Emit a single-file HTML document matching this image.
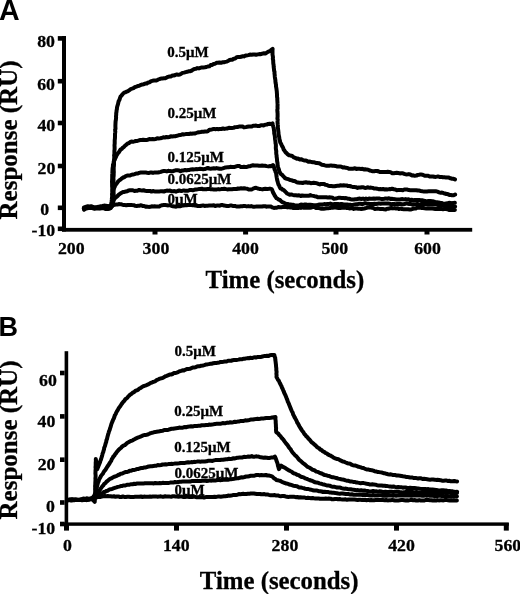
<!DOCTYPE html>
<html><head><meta charset="utf-8"><style>
html,body{margin:0;padding:0;background:#fff;}
body{width:520px;height:594px;overflow:hidden;}
svg{display:block;will-change:transform;}
</style></head><body>
<svg width="520" height="594" viewBox="0 0 520 594">
<rect width="520" height="594" fill="#fff"/>
<g fill="#000">
<rect x="62" y="36" width="4" height="195.5"/>
<rect x="62" y="227.9" width="410.2" height="3.8"/>
<rect x="57.8" y="36.1" width="4.2" height="4.6"/>
<rect x="57.8" y="78.9" width="4.2" height="4.6"/>
<rect x="57.8" y="120.7" width="4.2" height="4.6"/>
<rect x="57.8" y="163.7" width="4.2" height="4.6"/>
<rect x="57.8" y="205.5" width="4.2" height="4.6"/>
<rect x="57.8" y="226.5" width="4.2" height="4.6"/>
<rect x="152.5" y="229.0" width="5.0" height="5.5"/>
<rect x="243.1" y="229.0" width="5.0" height="5.5"/>
<rect x="333.5" y="229.0" width="5.0" height="5.5"/>
<rect x="424.5" y="229.0" width="5.0" height="5.5"/>
<rect x="64.6" y="351.2" width="3.6" height="174.6"/>
<rect x="60" y="522.4" width="448.8" height="3.4"/>
<rect x="60.0" y="370.7" width="4.6" height="4.6"/>
<rect x="60.0" y="414.1" width="4.6" height="4.6"/>
<rect x="60.0" y="457.4" width="4.6" height="4.6"/>
<rect x="60.0" y="500.2" width="4.6" height="4.6"/>
<rect x="60.0" y="521.7" width="4.6" height="4.6"/>
<rect x="64.0" y="523.0" width="5.0" height="7.6"/>
<rect x="174.0" y="523.0" width="5.0" height="7.6"/>
<rect x="284.0" y="523.0" width="5.0" height="7.6"/>
<rect x="394.0" y="523.0" width="5.0" height="7.6"/>
<rect x="503.8" y="523.0" width="5.0" height="7.6"/>
</g>
<g fill="none" stroke="#000" stroke-width="4.0" stroke-linejoin="round" stroke-linecap="round">
<path d="M84.1,208.2 L85.8,208.3 L87.3,208.3 L89.0,207.8 L90.7,208.1 L92.3,208.0 L94.0,208.1 L95.6,207.9 L97.2,207.6 L98.8,207.8 L100.6,207.0 L102.2,207.1 L104.1,206.9 L105.6,206.6 L107.2,206.7 L108.9,206.4 L110.6,206.4 L112.4,206.0 L112.3,204.9 L112.4,203.2 L112.4,202.0 L112.6,200.7 L112.6,199.2 L112.6,197.5 L112.7,196.1 L112.8,194.5 L112.9,193.3 L113.1,192.2 L113.2,190.7 L113.2,189.1 L113.2,186.9 L113.4,185.0 L113.4,183.9 L113.2,182.6 L113.5,181.1 L113.5,179.6 L113.4,177.8 L113.6,176.4 L113.7,175.0 L113.7,173.7 L113.8,172.2 L113.7,170.2 L113.7,168.8 L113.7,167.6 L113.9,166.0 L114.0,164.5 L114.0,162.4 L114.1,161.4 L114.1,159.8 L114.2,158.1 L114.3,156.8 L114.1,155.4 L114.4,154.0 L114.4,153.4 L114.4,151.8 L114.4,150.8 L114.6,149.2 L114.6,147.0 L114.5,145.3 L114.7,143.5 L114.7,141.7 L114.7,140.2 L114.9,138.8 L115.0,136.9 L115.0,135.6 L115.0,133.9 L115.2,132.5 L115.3,131.4 L115.1,129.6 L115.5,128.8 L115.4,126.9 L115.4,125.5 L115.5,123.2 L115.6,121.4 L115.9,119.6 L116.0,118.6 L116.1,117.6 L116.0,116.5 L116.2,114.6 L116.2,113.4 L116.5,111.7 L116.6,110.3 L116.9,109.2 L117.0,107.5 L117.6,105.3 L118.0,104.1 L118.4,102.3 L118.7,101.1 L119.5,99.8 L119.9,98.2 L120.6,96.4 L121.4,95.7 L122.3,94.7 L123.3,93.3 L124.4,92.5 L125.5,92.3 L126.8,91.6 L128.0,91.1 L129.4,90.1 L130.7,89.1 L132.0,88.7 L133.5,88.2 L134.8,87.2 L136.4,86.6 L137.8,86.0 L139.2,85.7 L140.9,84.9 L142.3,84.5 L143.8,84.2 L145.2,83.6 L146.7,83.6 L148.2,82.4 L149.8,82.2 L151.1,81.2 L152.5,80.8 L153.9,80.6 L155.3,80.4 L156.8,80.4 L158.3,79.5 L159.6,79.0 L161.0,78.6 L162.3,78.4 L164.0,78.2 L165.3,78.2 L166.8,77.4 L168.0,76.9 L169.5,76.5 L171.1,76.4 L172.5,75.4 L173.7,75.5 L175.4,75.0 L176.8,74.4 L178.2,74.8 L179.8,74.5 L181.3,73.7 L182.5,72.9 L184.1,72.6 L185.7,72.1 L187.1,71.8 L188.5,71.3 L189.9,71.2 L191.4,70.8 L193.0,69.7 L194.3,68.9 L196.0,68.8 L197.3,68.1 L198.9,68.4 L200.3,67.9 L201.9,67.4 L203.3,67.5 L204.9,67.3 L206.4,67.0 L207.7,66.5 L209.4,66.3 L210.6,65.1 L212.2,64.9 L213.6,64.0 L215.1,63.8 L216.5,62.7 L217.9,62.8 L219.5,62.5 L221.0,62.8 L222.3,62.3 L223.9,62.3 L225.3,61.9 L226.6,61.6 L228.1,61.0 L229.6,59.9 L230.9,59.7 L232.5,59.7 L233.8,58.7 L235.2,58.5 L236.6,57.3 L238.1,57.1 L239.8,57.0 L241.2,56.8 L242.7,56.2 L243.9,56.4 L245.6,55.5 L247.0,55.4 L248.5,55.1 L249.9,54.6 L251.5,54.8 L253.2,54.5 L254.7,54.5 L256.1,54.8 L257.8,54.4 L259.2,54.1 L260.8,54.2 L262.3,53.6 L264.0,53.2 L265.3,53.6 L266.8,52.6 L267.9,51.9 L269.4,51.2 L270.5,50.8 L271.5,49.6 L272.6,48.9 L272.5,50.6 L272.5,52.1 L272.5,54.5 L272.8,56.2 L273.0,57.3 L272.8,58.8 L273.2,60.5 L273.2,61.6 L273.3,63.5 L273.6,65.0 L273.7,67.0 L273.9,68.5 L274.0,69.5 L274.1,70.7 L274.5,71.8 L274.5,73.7 L274.7,74.8 L274.8,76.7 L275.1,78.7 L275.4,80.3 L275.4,81.2 L275.6,83.1 L276.0,84.7 L276.0,86.3 L276.3,87.8 L276.5,89.1 L276.6,89.9 L276.8,91.5 L276.9,93.1 L277.0,94.5 L277.0,95.8 L277.1,97.3 L277.3,98.0 L277.3,99.9 L277.4,101.1 L277.5,103.2 L277.6,104.6 L277.5,106.8 L277.6,108.6 L277.3,109.9 L277.4,111.5 L277.6,113.5 L277.6,115.0 L277.6,116.8 L277.4,118.6 L277.7,119.5 L277.6,120.9 L277.5,121.7 L277.6,122.6 L277.7,124.2 L277.9,125.5 L277.8,127.4 L278.1,129.0 L278.2,130.7 L278.5,132.5 L278.5,133.8 L278.9,135.8 L279.2,137.2 L279.4,139.3 L279.9,140.5 L280.2,142.3 L280.7,143.2 L281.2,144.2 L281.9,145.7 L282.3,146.4 L283.1,147.7 L283.6,149.5 L284.6,150.8 L285.5,152.3 L286.5,153.0 L287.5,154.2 L288.8,155.2 L289.9,155.4 L291.2,155.7 L292.5,156.2 L293.9,157.4 L295.2,157.9 L296.8,158.7 L298.0,158.5 L299.7,159.4 L301.0,159.2 L302.6,159.9 L304.1,160.5 L305.6,160.5 L307.0,160.9 L308.4,161.7 L310.0,161.5 L311.3,162.0 L312.9,162.2 L314.3,162.3 L315.9,162.9 L317.2,163.0 L318.9,163.2 L320.5,163.9 L321.9,164.7 L323.4,164.9 L324.8,165.4 L326.4,165.7 L327.9,165.7 L329.2,165.7 L330.9,165.4 L332.4,165.8 L333.9,165.7 L335.4,165.9 L336.8,166.4 L338.2,166.5 L339.9,166.4 L341.4,166.7 L342.9,167.5 L344.4,167.3 L345.8,167.8 L347.5,167.9 L348.9,168.7 L350.4,168.7 L351.7,168.8 L353.3,168.7 L355.0,168.2 L356.4,168.9 L357.7,168.7 L359.4,168.8 L360.9,168.9 L362.4,168.8 L363.8,169.4 L365.2,169.2 L366.8,169.6 L368.2,169.7 L369.7,170.5 L371.3,170.9 L372.7,171.3 L374.2,171.3 L375.8,170.9 L377.4,171.0 L378.8,171.5 L380.2,172.1 L381.8,172.0 L383.4,172.0 L384.9,172.1 L386.2,172.1 L387.7,171.7 L389.3,171.9 L390.9,172.4 L392.3,173.3 L393.8,173.3 L395.2,172.9 L396.6,172.8 L398.3,173.0 L399.8,173.4 L401.2,173.2 L402.8,173.3 L404.1,173.9 L405.7,174.2 L407.2,174.4 L408.8,174.1 L410.3,174.5 L411.7,175.4 L413.2,175.3 L414.7,175.8 L416.4,175.6 L417.8,174.9 L419.1,174.8 L420.8,174.4 L422.3,174.7 L423.9,175.3 L425.2,175.8 L426.6,175.7 L428.2,175.8 L429.6,176.5 L431.1,176.6 L432.9,176.4 L434.1,176.8 L435.7,176.9 L437.3,176.6 L438.6,176.6 L440.0,177.0 L441.7,176.9 L442.9,177.3 L444.6,177.3 L446.1,177.6 L447.5,177.5 L448.9,177.6 L450.5,178.3 L452.1,178.7 L453.6,178.8 L455.0,179.4"/>
<path d="M84.0,207.5 L85.6,207.4 L87.3,208.0 L89.0,207.6 L90.8,208.0 L92.3,207.8 L94.1,207.4 L95.8,207.3 L97.5,207.0 L99.0,206.6 L100.8,206.3 L102.4,206.0 L104.1,205.6 L105.7,205.7 L107.4,205.9 L109.1,206.3 L110.8,206.8 L111.1,205.6 L111.2,203.8 L111.6,201.6 L111.8,199.9 L111.9,198.1 L112.2,196.5 L112.2,195.6 L112.0,194.1 L112.3,192.8 L112.2,191.4 L112.2,189.8 L112.3,188.1 L112.2,187.3 L112.1,186.3 L112.1,184.8 L112.1,183.6 L112.0,181.7 L112.1,180.0 L112.2,178.2 L112.2,176.8 L112.2,175.0 L112.3,173.7 L112.4,171.8 L112.5,169.7 L112.6,168.1 L112.9,166.5 L113.0,164.7 L113.6,163.2 L113.7,161.7 L114.1,160.5 L114.8,159.6 L115.2,158.4 L115.9,157.0 L116.4,155.7 L117.2,154.5 L117.9,153.2 L118.8,152.3 L119.7,150.9 L120.5,149.6 L121.7,149.0 L122.7,147.7 L123.9,147.0 L125.0,145.7 L126.2,144.8 L127.4,143.7 L128.9,143.1 L130.0,142.2 L131.4,141.6 L133.1,141.7 L134.5,141.4 L135.7,141.0 L137.3,141.0 L138.9,140.4 L140.3,140.0 L141.8,140.0 L143.2,139.7 L144.7,140.0 L146.3,140.1 L147.8,139.8 L149.3,139.1 L151.1,139.2 L152.6,139.0 L154.0,139.2 L155.7,139.0 L157.2,138.2 L158.8,138.4 L160.2,138.3 L161.7,138.0 L163.4,137.2 L164.7,137.6 L166.4,137.0 L167.8,137.3 L169.2,137.1 L170.8,136.3 L172.3,136.5 L173.8,136.3 L175.2,136.2 L176.8,135.8 L178.4,135.3 L179.8,135.1 L181.4,134.7 L182.8,134.2 L184.2,134.4 L185.8,134.1 L187.2,133.9 L188.9,134.0 L190.2,133.6 L191.7,133.8 L193.1,133.6 L194.7,133.6 L196.2,133.0 L197.5,132.5 L199.1,132.2 L200.7,132.0 L201.9,131.8 L203.6,131.8 L205.0,131.4 L206.6,131.6 L208.0,131.1 L209.4,129.8 L211.0,129.7 L212.4,129.3 L214.1,128.9 L215.5,129.2 L216.9,128.9 L218.4,129.3 L220.0,128.9 L221.3,129.0 L223.0,128.5 L224.5,128.9 L226.1,128.6 L227.5,128.4 L228.9,127.8 L230.4,128.0 L232.0,127.9 L233.5,127.8 L234.9,127.2 L236.7,127.1 L238.0,126.9 L239.7,126.4 L241.1,126.6 L242.6,126.5 L244.0,127.4 L245.8,127.1 L247.2,126.8 L248.8,126.5 L250.3,126.4 L251.8,126.5 L253.1,125.8 L254.6,125.8 L256.1,125.6 L257.8,126.1 L259.2,126.1 L260.9,125.3 L262.3,125.3 L263.6,125.4 L265.1,124.7 L266.7,124.6 L268.2,123.9 L269.6,123.7 L271.3,124.2 L272.5,123.4 L272.9,125.2 L273.4,127.1 L273.7,128.0 L274.0,130.1 L274.2,132.0 L274.2,133.2 L274.7,135.4 L274.9,136.6 L275.0,138.4 L275.1,139.5 L275.3,140.6 L275.5,141.9 L275.5,143.0 L275.8,144.2 L275.9,145.8 L275.8,148.0 L276.0,149.7 L276.3,151.3 L276.2,152.4 L276.3,154.1 L276.6,155.4 L276.6,156.7 L276.9,158.4 L277.0,159.6 L277.1,161.1 L277.5,163.0 L277.6,165.0 L277.9,166.5 L278.3,168.0 L278.9,169.5 L279.2,170.9 L279.8,172.4 L280.4,173.4 L281.1,174.2 L282.1,174.8 L283.0,175.9 L283.9,176.8 L285.0,178.1 L286.4,178.7 L287.3,178.9 L288.9,179.4 L290.2,180.1 L291.8,180.3 L293.2,180.9 L294.6,181.1 L296.4,182.1 L297.8,182.6 L299.6,182.8 L301.2,182.7 L302.7,183.0 L304.5,182.4 L305.9,182.2 L307.7,182.7 L309.2,182.6 L310.8,183.2 L312.4,183.1 L313.7,182.7 L315.4,183.1 L316.8,183.2 L318.3,183.9 L319.8,184.5 L321.1,183.9 L322.7,184.1 L324.2,184.0 L325.4,184.8 L326.9,184.9 L328.4,185.7 L329.8,186.0 L331.4,186.1 L332.8,186.3 L334.6,186.3 L335.9,186.0 L337.5,185.8 L338.9,185.7 L340.7,185.3 L342.1,185.4 L343.6,185.2 L345.3,185.4 L346.6,185.4 L348.1,186.1 L349.6,186.0 L351.3,186.5 L352.6,187.0 L354.3,187.1 L355.9,187.2 L357.5,187.9 L358.7,187.5 L360.4,187.6 L361.9,187.2 L363.4,187.3 L365.0,187.9 L366.4,187.7 L368.1,187.3 L369.6,187.8 L371.0,187.6 L372.7,187.9 L374.0,188.5 L375.7,188.4 L377.0,188.7 L378.6,189.2 L380.2,189.1 L381.7,189.2 L383.0,189.0 L384.8,189.5 L386.1,189.3 L387.7,189.4 L389.2,189.1 L390.7,189.2 L392.1,188.7 L393.9,189.2 L395.4,189.5 L396.8,190.2 L398.4,189.9 L399.8,190.1 L401.3,190.0 L402.8,190.2 L404.3,189.5 L405.8,189.6 L407.4,189.6 L408.8,190.1 L410.2,190.2 L412.0,190.3 L413.3,190.3 L414.9,190.2 L416.3,190.2 L417.8,190.5 L419.4,190.6 L420.8,191.0 L422.6,191.3 L424.0,191.5 L425.4,191.6 L427.0,191.4 L428.6,191.3 L430.0,191.2 L431.5,191.3 L433.1,191.3 L434.5,191.2 L436.3,191.3 L437.7,191.7 L439.1,192.4 L440.6,192.7 L442.0,192.6 L443.7,193.2 L444.9,193.5 L446.4,194.0 L447.7,194.1 L449.4,194.9 L450.5,194.9 L452.0,195.3 L453.6,195.3 L455.1,194.5"/>
<path d="M83.9,208.7 L85.1,208.1 L86.6,207.7 L88.1,207.8 L89.6,207.5 L91.1,207.9 L92.6,207.5 L94.5,208.2 L96.0,207.7 L97.8,208.1 L99.3,207.5 L101.0,207.6 L102.6,207.6 L104.4,207.1 L105.9,207.4 L107.4,207.7 L108.6,206.9 L110.0,206.7 L111.0,206.3 L111.8,205.7 L112.4,204.7 L112.7,203.9 L113.1,202.6 L113.5,200.9 L113.5,199.4 L113.6,198.5 L113.4,196.8 L113.7,195.1 L113.6,192.8 L113.5,191.0 L113.8,189.2 L114.1,187.9 L114.6,187.2 L115.0,185.7 L115.8,184.7 L116.8,183.3 L117.5,182.3 L118.5,181.0 L119.6,180.2 L120.8,179.3 L121.9,178.4 L123.2,177.5 L124.6,177.0 L125.7,176.1 L127.2,175.6 L128.5,175.4 L130.0,175.5 L131.6,174.7 L133.0,174.6 L134.6,174.1 L136.0,173.6 L137.8,173.5 L139.1,172.9 L140.9,172.5 L142.2,172.6 L143.9,172.5 L145.4,172.4 L147.1,172.8 L148.6,173.0 L150.1,172.6 L151.5,172.5 L153.0,172.9 L154.8,172.4 L156.1,172.4 L157.8,172.5 L159.2,172.2 L160.9,171.9 L162.3,171.2 L163.9,171.0 L165.3,171.1 L166.8,171.4 L168.3,170.8 L169.9,171.1 L171.5,171.2 L173.1,171.2 L174.5,170.6 L175.9,170.3 L177.5,170.2 L179.1,170.5 L180.5,171.3 L181.9,170.6 L183.5,170.4 L185.1,170.0 L186.7,170.4 L188.2,170.0 L189.5,169.9 L191.1,169.4 L192.6,169.2 L194.2,169.4 L195.8,169.1 L197.1,169.3 L198.7,169.1 L200.1,168.8 L201.6,169.0 L203.3,169.2 L204.8,169.1 L206.3,168.5 L207.8,168.0 L209.2,168.5 L210.6,168.7 L212.3,168.6 L213.7,168.2 L215.2,168.5 L216.6,168.1 L218.3,168.5 L219.6,168.8 L221.2,168.7 L222.7,168.4 L224.2,167.9 L225.6,167.4 L227.4,167.3 L228.6,167.3 L230.2,166.8 L231.8,167.0 L233.3,167.1 L234.7,166.9 L236.2,166.4 L237.8,165.9 L239.3,166.1 L240.8,166.9 L242.3,167.1 L243.9,166.7 L245.5,167.1 L246.8,167.0 L248.4,166.3 L250.0,166.3 L251.5,165.6 L253.0,165.2 L254.4,165.4 L255.8,165.6 L257.4,165.6 L259.1,165.8 L260.7,165.8 L262.2,165.6 L263.7,165.7 L265.0,165.7 L266.6,166.1 L268.3,166.4 L269.6,166.1 L271.3,166.2 L272.9,165.0 L273.6,166.0 L274.2,167.9 L274.6,169.6 L275.3,170.6 L275.5,171.9 L276.1,173.0 L276.2,173.9 L276.5,176.2 L276.8,178.0 L277.2,180.1 L277.6,181.5 L278.1,183.3 L278.6,184.8 L279.2,185.6 L279.7,187.0 L280.5,188.4 L281.5,188.4 L282.2,189.5 L283.4,189.9 L284.5,190.8 L285.8,192.2 L287.1,193.5 L288.2,194.0 L289.7,194.8 L291.2,194.4 L292.6,194.9 L294.2,195.2 L295.8,195.2 L297.3,195.4 L299.0,195.2 L300.7,196.0 L302.2,195.5 L304.0,195.7 L305.4,195.8 L307.0,195.7 L308.6,195.8 L310.3,195.1 L311.7,195.6 L313.3,195.9 L314.7,196.2 L316.1,196.4 L317.7,197.2 L319.3,197.2 L320.5,197.3 L322.2,197.2 L323.6,197.2 L325.0,197.3 L326.4,197.2 L328.0,197.6 L329.5,197.3 L330.9,197.4 L332.5,197.8 L333.9,198.7 L335.5,198.5 L337.0,198.2 L338.4,197.8 L340.0,197.8 L341.6,197.9 L343.2,197.9 L344.7,198.3 L346.0,198.1 L347.7,198.7 L349.1,198.8 L350.7,199.2 L352.1,199.4 L353.9,199.5 L355.2,199.3 L356.7,199.2 L358.4,198.8 L359.8,198.6 L361.4,199.0 L363.0,198.6 L364.5,199.2 L366.0,198.5 L367.6,199.1 L369.0,198.5 L370.4,198.8 L372.2,198.8 L373.7,198.5 L375.1,198.8 L376.7,198.4 L378.2,198.4 L379.6,198.6 L381.1,198.9 L382.7,199.0 L384.3,198.8 L385.8,198.4 L387.4,198.7 L389.0,198.3 L390.4,198.9 L391.8,198.8 L393.3,199.1 L395.0,199.3 L396.5,199.5 L397.9,199.6 L399.5,199.6 L401.0,199.3 L402.6,199.1 L404.1,199.4 L405.6,199.1 L407.1,199.6 L408.5,199.3 L410.1,200.1 L411.5,199.7 L413.1,200.3 L414.7,200.1 L416.2,200.1 L417.7,200.0 L419.0,200.0 L420.5,200.3 L422.1,200.2 L423.7,200.6 L425.0,200.9 L426.7,201.6 L428.0,200.9 L429.7,200.9 L431.3,201.1 L432.7,201.2 L434.2,201.6 L435.5,202.2 L437.0,202.3 L438.5,202.5 L440.1,202.8 L441.4,202.9 L443.0,203.6 L444.7,203.7 L446.0,203.5 L447.5,203.3 L449.0,202.8 L450.6,203.0 L452.0,203.2 L453.4,202.9 L454.9,202.8"/>
<path d="M83.9,208.1 L85.2,207.1 L86.3,206.7 L87.8,206.3 L89.6,206.5 L91.2,206.2 L92.8,206.8 L94.6,207.7 L96.5,207.7 L98.3,208.0 L100.3,208.2 L102.0,208.1 L103.6,208.1 L105.5,208.9 L107.0,208.9 L108.1,208.9 L109.4,208.8 L110.4,208.3 L111.3,207.3 L111.9,205.9 L112.3,204.6 L112.3,202.7 L112.7,201.4 L113.1,200.3 L113.6,199.8 L114.4,198.9 L115.5,197.7 L116.5,196.9 L117.7,195.9 L118.8,194.7 L120.3,193.6 L121.7,192.8 L123.0,192.1 L124.4,191.9 L125.8,191.5 L127.2,191.3 L128.5,190.5 L130.1,190.2 L131.6,190.2 L132.8,190.2 L134.5,191.0 L135.9,190.8 L137.4,190.7 L139.1,189.9 L140.4,190.2 L142.0,190.4 L143.6,190.3 L145.2,190.7 L146.8,190.9 L148.4,191.1 L150.0,190.9 L151.5,191.6 L152.9,191.0 L154.5,191.4 L156.0,191.4 L157.5,191.4 L159.2,191.4 L160.8,191.3 L162.3,191.2 L163.9,191.6 L165.5,190.9 L166.8,190.6 L168.5,190.7 L170.0,190.6 L171.4,191.2 L173.0,191.2 L174.4,191.1 L176.0,191.7 L177.7,191.0 L179.2,190.5 L180.6,190.9 L182.1,190.9 L183.7,190.4 L185.1,190.7 L186.6,190.8 L188.1,190.7 L189.6,190.0 L191.2,189.9 L192.7,190.3 L194.3,189.8 L195.6,189.5 L197.1,189.4 L198.7,189.1 L200.2,188.9 L201.8,188.7 L203.2,189.3 L204.8,189.3 L206.4,189.2 L207.7,188.9 L209.4,188.9 L210.8,189.2 L212.2,189.3 L213.7,189.4 L215.4,189.4 L216.8,189.4 L218.3,189.1 L219.8,189.4 L221.4,189.1 L222.7,188.9 L224.4,188.8 L225.9,189.1 L227.3,189.4 L228.8,189.2 L230.3,189.3 L231.9,189.2 L233.6,189.0 L235.0,188.9 L236.5,189.1 L238.0,188.4 L239.4,188.7 L241.1,188.2 L242.5,188.5 L244.1,188.2 L245.6,188.5 L247.2,188.7 L248.7,189.5 L250.1,189.4 L251.5,189.6 L253.2,188.6 L254.6,188.0 L256.1,187.8 L257.7,188.5 L259.4,188.9 L260.8,189.1 L262.4,189.4 L263.9,189.0 L265.3,188.8 L267.0,188.9 L268.3,188.9 L269.9,188.6 L271.6,189.1 L272.3,190.3 L273.0,192.4 L273.9,193.9 L274.7,195.5 L275.6,196.8 L276.6,198.3 L277.7,198.8 L278.8,199.6 L279.9,200.0 L281.1,201.2 L282.1,202.1 L283.4,202.5 L284.8,203.2 L286.1,204.0 L287.6,204.0 L288.9,204.2 L290.5,204.4 L292.0,204.9 L293.3,204.7 L294.9,205.5 L296.4,205.4 L298.1,205.5 L299.4,205.1 L300.9,204.6 L302.7,204.7 L304.3,204.6 L305.7,204.4 L307.3,204.9 L309.0,204.7 L310.4,204.7 L312.1,204.9 L313.6,205.2 L315.0,205.2 L316.5,205.3 L318.1,204.8 L319.8,204.6 L321.1,204.6 L322.7,204.4 L324.2,204.1 L325.9,204.2 L327.4,204.0 L328.9,203.9 L330.3,203.6 L331.7,204.2 L333.3,204.2 L334.8,204.0 L336.3,204.1 L338.0,204.0 L339.4,204.2 L341.1,204.0 L342.3,204.1 L344.0,204.5 L345.5,204.5 L347.1,204.4 L348.5,204.7 L350.2,204.7 L351.5,205.1 L353.0,204.9 L354.7,204.4 L356.1,204.3 L357.8,204.2 L359.3,203.7 L360.7,203.8 L362.4,204.2 L363.7,203.7 L365.3,203.2 L366.8,203.7 L368.4,203.7 L369.9,203.9 L371.4,203.9 L373.1,203.9 L374.5,203.8 L375.9,204.0 L377.5,203.8 L378.9,203.4 L380.6,203.8 L382.1,203.4 L383.5,203.6 L385.2,203.5 L386.7,203.5 L388.1,203.4 L389.6,203.7 L391.3,204.3 L392.6,204.1 L394.4,204.1 L395.7,204.2 L397.2,203.9 L398.8,204.0 L400.5,203.9 L401.8,204.4 L403.4,204.2 L404.9,204.0 L406.4,203.4 L408.0,203.7 L409.5,204.1 L411.1,204.1 L412.5,204.7 L414.0,204.3 L415.6,204.2 L417.2,204.0 L418.7,204.3 L420.1,204.5 L421.6,203.8 L423.0,203.9 L424.8,204.1 L426.2,204.3 L427.6,204.0 L429.3,204.5 L430.8,204.4 L432.4,204.2 L433.9,204.6 L435.3,204.6 L436.9,204.7 L438.2,205.2 L439.9,205.0 L441.4,205.4 L442.8,205.3 L444.3,205.9 L445.9,206.7 L447.5,206.9 L448.9,207.0 L450.4,207.1 L452.1,206.9 L453.4,206.7 L455.1,206.5"/>
<path d="M84.1,209.7 L85.5,208.6 L86.9,208.1 L88.5,207.6 L89.9,208.1 L91.5,207.7 L92.8,208.2 L94.6,208.7 L96.1,208.5 L97.6,208.4 L99.2,208.5 L100.8,208.3 L102.4,208.3 L103.8,207.7 L105.3,208.4 L106.7,208.5 L108.0,208.3 L109.5,207.5 L110.8,206.4 L112.1,205.6 L113.3,205.0 L114.8,204.7 L116.1,204.6 L117.4,204.6 L118.8,204.0 L120.1,204.2 L121.5,204.3 L123.2,205.0 L124.6,205.1 L126.2,205.3 L127.7,205.0 L129.0,205.1 L130.6,204.9 L132.1,205.1 L133.8,205.2 L135.2,205.8 L136.7,206.0 L138.2,205.8 L139.7,205.7 L141.1,205.2 L142.6,205.9 L144.1,205.9 L145.8,206.8 L147.1,206.6 L148.8,206.9 L150.3,206.8 L151.7,206.3 L153.1,206.5 L154.7,206.3 L156.4,206.6 L157.8,206.5 L159.3,206.4 L160.8,205.6 L162.2,205.2 L163.8,205.1 L165.2,205.1 L167.0,205.2 L168.3,205.4 L169.8,205.1 L171.3,205.8 L173.0,206.3 L174.5,206.4 L176.1,206.7 L177.5,206.2 L179.0,206.1 L180.6,206.2 L182.0,205.6 L183.3,205.4 L185.1,205.2 L186.5,205.3 L188.1,205.0 L189.4,204.9 L191.2,205.1 L192.6,205.2 L194.0,204.9 L195.4,205.6 L197.0,205.9 L198.5,205.9 L200.0,206.0 L201.5,205.7 L203.1,205.4 L204.5,205.9 L206.1,205.7 L207.7,205.7 L209.0,205.6 L210.6,205.5 L212.2,205.4 L213.8,205.2 L215.2,206.0 L216.6,205.6 L218.2,205.6 L219.7,205.7 L221.1,205.1 L222.7,205.1 L224.1,205.6 L225.6,205.7 L227.2,206.1 L228.9,206.0 L230.1,205.5 L231.8,205.6 L233.4,206.1 L234.9,205.9 L236.4,206.5 L237.7,206.4 L239.4,206.4 L240.7,206.2 L242.4,206.2 L243.9,205.9 L245.3,206.1 L246.7,206.4 L248.3,206.1 L250.0,206.4 L251.2,206.1 L252.9,206.7 L254.2,206.7 L255.9,206.6 L257.3,206.4 L258.9,206.5 L260.3,206.6 L262.0,206.5 L263.5,206.2 L265.0,206.2 L266.3,206.7 L268.0,206.4 L269.3,206.4 L270.9,206.6 L272.3,207.4 L273.9,207.9 L275.4,207.8 L276.8,207.7 L278.3,207.0 L279.9,207.2 L281.4,207.3 L283.0,206.9 L284.5,206.9 L286.1,207.1 L287.4,207.4 L288.9,207.1 L290.4,207.5 L291.8,207.5 L293.4,208.1 L294.8,208.1 L296.4,208.0 L298.0,208.0 L299.4,207.5 L300.9,207.9 L302.4,207.3 L304.0,207.8 L305.7,207.6 L307.0,207.7 L308.6,207.8 L310.0,207.8 L311.6,207.5 L313.2,206.9 L314.7,207.2 L316.0,207.9 L317.5,207.7 L319.1,208.2 L320.8,208.7 L322.1,208.5 L323.7,208.7 L325.2,208.5 L326.5,208.2 L328.2,208.2 L329.8,208.1 L331.3,207.4 L332.6,207.8 L334.2,207.3 L335.8,207.5 L337.1,207.7 L338.7,208.0 L340.1,207.9 L341.8,207.7 L343.3,207.8 L344.6,207.6 L346.3,207.9 L347.8,207.8 L349.4,208.4 L350.7,208.2 L352.5,208.2 L353.8,208.9 L355.5,208.5 L356.9,208.5 L358.4,208.8 L359.8,208.7 L361.3,208.9 L362.8,208.7 L364.4,208.5 L365.8,208.1 L367.6,207.6 L368.9,207.6 L370.4,207.4 L371.9,207.7 L373.5,208.2 L374.9,208.9 L376.6,208.8 L378.0,208.6 L379.6,208.9 L380.9,209.0 L382.5,208.9 L384.1,209.3 L385.7,209.4 L387.1,208.7 L388.4,208.7 L390.1,208.3 L391.5,208.0 L393.0,208.4 L394.5,208.1 L396.0,208.5 L397.8,208.2 L399.0,209.0 L400.8,208.6 L402.1,209.1 L403.6,209.2 L405.2,209.2 L406.6,209.2 L408.1,209.2 L409.7,209.5 L411.2,209.4 L412.8,208.9 L414.2,208.5 L415.9,208.4 L417.1,207.8 L418.8,207.7 L420.3,207.6 L421.9,208.0 L423.2,208.0 L424.7,208.3 L426.4,208.6 L427.8,208.2 L429.4,208.6 L430.7,208.4 L432.4,208.5 L433.9,208.7 L435.3,208.9 L436.9,209.1 L438.3,209.1 L439.8,208.7 L441.5,208.9 L443.0,209.2 L444.3,208.9 L446.0,209.0 L447.4,209.2 L449.0,209.9 L450.5,210.1 L452.1,209.7 L453.4,210.0 L454.9,209.9"/>
<path d="M67.9,500.1 L69.4,500.1 L71.0,500.5 L72.6,500.1 L74.3,500.0 L76.3,500.0 L78.1,499.9 L79.8,499.6 L81.4,499.3 L83.2,498.6 L85.0,498.8 L86.6,498.3 L88.3,498.7 L89.8,499.1 L91.0,499.0 L92.4,499.6 L93.8,500.9 L94.7,501.8 L94.8,500.5 L94.9,499.1 L94.9,497.5 L95.0,495.6 L95.0,493.9 L95.2,492.8 L95.2,490.7 L95.1,489.1 L95.2,487.9 L95.1,486.2 L95.3,484.3 L95.3,483.2 L95.4,481.4 L95.5,479.9 L95.4,478.2 L95.6,476.9 L95.6,475.1 L95.4,473.3 L95.5,472.0 L95.5,470.5 L95.7,468.7 L95.5,467.3 L95.7,465.6 L95.7,464.1 L95.7,462.6 L95.9,461.0 L95.8,459.1 L96.1,461.0 L96.5,463.3 L96.8,465.3 L97.1,467.2 L97.2,469.2 L97.8,467.8 L98.3,466.6 L98.9,464.9 L99.5,463.4 L100.0,462.4 L100.3,461.0 L100.9,459.7 L101.4,458.0 L101.9,456.4 L102.3,454.9 L102.6,453.5 L103.2,452.2 L103.6,450.6 L104.0,449.4 L104.2,447.8 L104.9,446.2 L105.3,444.7 L105.6,443.6 L106.2,442.1 L106.4,440.4 L107.0,439.0 L107.3,437.6 L107.7,436.1 L108.2,434.1 L108.7,432.6 L109.1,431.1 L109.7,429.9 L110.1,428.2 L110.6,426.9 L110.9,425.7 L111.4,424.0 L111.9,422.8 L112.7,420.9 L113.1,419.7 L113.8,418.5 L114.3,417.2 L114.8,415.4 L115.7,414.0 L116.1,412.9 L116.9,411.4 L117.7,410.2 L118.4,408.8 L119.2,407.5 L120.0,406.5 L120.8,405.4 L121.5,404.1 L122.5,402.9 L123.1,402.0 L124.3,400.8 L125.2,399.4 L126.1,398.7 L127.3,397.7 L128.1,396.6 L129.3,395.5 L130.4,394.4 L131.6,393.7 L132.7,392.7 L134.1,392.1 L135.3,390.9 L136.7,390.3 L138.0,389.8 L139.0,388.8 L140.6,388.0 L141.8,387.2 L143.0,386.4 L144.4,385.8 L146.0,385.3 L147.5,384.7 L148.7,384.1 L150.2,383.2 L151.6,382.7 L152.9,382.0 L154.3,381.6 L155.6,381.0 L157.0,379.8 L158.5,379.3 L159.9,378.6 L161.4,378.3 L162.7,377.9 L164.2,377.1 L165.5,376.2 L166.7,375.9 L168.4,375.2 L169.7,374.5 L171.1,374.5 L172.5,374.0 L173.8,373.1 L175.3,373.0 L176.7,372.6 L178.1,372.1 L179.6,371.3 L181.2,370.9 L182.6,370.3 L184.0,370.4 L185.3,369.8 L186.8,369.1 L188.2,369.0 L189.9,368.8 L191.3,368.2 L192.7,367.5 L194.2,367.4 L195.5,367.3 L197.0,366.5 L198.4,366.2 L200.0,366.2 L201.3,365.7 L202.9,365.5 L204.3,365.1 L205.7,364.6 L207.3,364.4 L208.9,364.1 L210.4,363.8 L211.6,363.7 L213.2,363.3 L214.8,363.0 L216.3,363.1 L217.7,362.7 L219.3,362.5 L220.6,361.9 L222.0,361.9 L223.5,361.8 L225.1,361.4 L226.6,361.5 L228.1,360.8 L229.6,360.7 L231.2,360.8 L232.6,360.2 L234.0,360.0 L235.7,360.1 L237.0,359.9 L238.5,359.6 L240.0,359.2 L241.7,359.3 L243.1,358.8 L244.6,358.8 L246.1,358.4 L247.7,358.1 L249.0,358.2 L250.5,357.8 L252.1,358.1 L253.5,357.5 L255.1,357.3 L256.5,357.4 L258.0,356.9 L259.4,356.9 L261.2,356.9 L262.4,356.5 L264.0,356.1 L265.5,356.1 L267.1,355.7 L268.6,355.9 L269.9,355.2 L271.4,355.0 L273.0,355.1 L274.4,355.1 L274.6,356.6 L275.2,357.9 L275.3,359.6 L275.6,361.7 L275.8,363.4 L276.0,365.1 L276.1,367.0 L276.3,368.1 L276.3,370.2 L276.6,371.9 L276.4,373.8 L276.6,375.0 L276.5,377.1 L277.1,378.0 L277.9,379.8 L278.8,380.7 L279.5,382.3 L280.1,383.5 L280.8,384.9 L281.5,386.2 L281.9,387.5 L282.6,388.8 L283.2,390.3 L283.8,391.5 L284.3,393.0 L285.0,394.4 L285.6,395.7 L286.2,397.1 L286.8,398.8 L287.4,400.1 L287.8,401.8 L288.5,402.9 L289.0,404.3 L289.7,406.0 L290.2,407.3 L290.7,408.6 L291.3,409.9 L292.0,411.6 L292.7,412.6 L293.1,414.4 L293.9,415.7 L294.5,417.1 L295.1,418.1 L295.8,419.4 L296.7,421.1 L297.3,422.7 L298.0,423.6 L298.6,424.8 L299.5,426.5 L300.2,427.6 L301.0,428.9 L301.9,430.4 L302.8,431.6 L303.6,432.6 L304.4,434.1 L305.3,434.8 L306.3,436.4 L307.4,437.2 L308.4,438.7 L309.3,439.4 L310.4,440.6 L311.3,442.0 L312.4,442.7 L313.5,443.6 L314.5,444.7 L315.7,445.5 L316.9,446.9 L318.0,447.8 L319.3,448.4 L320.3,449.6 L321.7,450.2 L322.8,451.4 L324.2,451.9 L325.4,452.9 L326.6,453.3 L327.9,454.4 L329.3,455.1 L330.5,455.6 L331.9,456.4 L333.3,457.4 L334.5,458.1 L335.9,458.6 L337.3,459.1 L338.7,459.3 L340.3,460.4 L341.5,460.9 L343.0,461.6 L344.2,461.8 L345.7,462.5 L347.3,463.2 L348.6,463.4 L350.1,463.7 L351.4,464.6 L352.9,465.3 L354.2,465.4 L355.6,465.6 L357.0,466.1 L358.6,466.8 L360.1,467.1 L361.6,467.7 L363.1,467.9 L364.4,468.5 L365.8,469.1 L367.2,469.5 L368.7,469.6 L370.3,470.1 L371.6,470.2 L373.3,470.7 L374.5,471.2 L376.1,471.4 L377.5,472.0 L379.0,472.1 L380.7,472.4 L382.0,472.6 L383.6,473.2 L385.0,473.3 L386.4,473.8 L388.0,474.2 L389.4,474.4 L390.8,474.3 L392.6,474.9 L394.0,475.0 L395.4,475.1 L396.8,475.6 L398.5,475.6 L400.0,475.7 L401.5,476.0 L402.9,476.3 L404.5,476.4 L405.9,476.9 L407.3,476.9 L409.0,477.2 L410.5,477.6 L412.0,477.4 L413.5,478.0 L415.0,478.1 L416.4,478.1 L418.1,478.5 L419.5,478.2 L421.0,478.3 L422.6,479.0 L424.1,478.8 L425.6,478.9 L427.1,479.2 L428.4,479.6 L430.0,479.7 L431.6,479.6 L433.2,479.5 L434.7,479.7 L435.9,479.9 L437.4,479.8 L439.1,480.0 L440.5,480.2 L442.0,480.7 L443.7,480.7 L445.2,480.6 L446.7,480.6 L448.2,481.0 L449.6,480.8 L450.9,481.3 L452.6,481.2 L454.1,481.0 L455.6,481.3 L457.1,481.4" stroke-width="4.0"/>
<path d="M68.0,500.1 L69.2,499.6 L70.9,499.6 L72.3,499.5 L73.9,499.8 L75.5,499.6 L77.2,499.8 L78.7,500.1 L80.6,500.1 L82.3,500.0 L83.8,499.9 L85.4,500.1 L86.9,500.1 L88.3,499.6 L89.6,499.4 L90.7,498.9 L91.9,498.6 L92.9,497.8 L93.5,496.6 L94.3,495.6 L94.8,494.3 L95.3,493.4 L95.7,492.2 L96.2,490.7 L96.5,488.9 L96.9,487.2 L97.2,485.9 L97.5,484.7 L98.0,482.6 L98.6,481.3 L99.0,479.7 L99.5,478.8 L100.4,477.3 L101.0,475.9 L102.0,474.6 L102.9,473.7 L103.4,472.5 L104.3,471.1 L105.4,469.9 L106.2,468.7 L106.9,467.3 L107.8,466.0 L108.6,464.8 L109.5,463.5 L110.3,462.1 L111.2,460.9 L111.8,459.2 L112.7,457.9 L113.3,456.6 L114.3,455.7 L115.1,454.3 L116.1,453.1 L116.9,451.8 L118.0,450.6 L118.8,449.7 L120.1,448.5 L121.1,447.9 L122.1,446.5 L123.4,445.7 L124.7,445.2 L125.8,444.2 L127.1,443.0 L128.4,442.3 L129.4,441.7 L130.7,441.0 L132.2,440.6 L133.5,439.8 L135.0,439.0 L136.2,438.3 L137.7,437.7 L139.1,437.2 L140.4,436.7 L142.1,435.9 L143.3,435.3 L144.7,434.9 L146.2,434.9 L147.8,434.5 L149.3,433.8 L150.7,433.1 L152.1,432.8 L153.7,432.3 L155.1,432.1 L156.6,431.8 L158.0,431.6 L159.7,431.2 L161.0,430.9 L162.7,430.8 L164.2,430.0 L165.7,430.1 L167.0,430.0 L168.7,429.7 L170.0,429.2 L171.5,428.8 L173.1,428.8 L174.5,428.5 L176.2,428.3 L177.7,428.1 L179.2,427.6 L180.5,427.7 L182.1,427.8 L183.6,427.3 L185.1,427.1 L186.6,427.2 L187.9,426.7 L189.7,426.4 L191.1,426.2 L192.6,426.5 L194.0,426.1 L195.5,426.1 L197.1,425.9 L198.5,425.8 L200.2,425.7 L201.7,425.3 L203.1,425.2 L204.5,425.3 L206.0,425.1 L207.7,425.1 L209.0,424.6 L210.6,424.8 L212.0,424.6 L213.6,424.3 L215.3,423.9 L216.6,423.8 L218.0,423.7 L219.7,423.7 L221.0,423.7 L222.7,423.1 L224.3,423.3 L225.6,423.2 L227.3,422.6 L228.5,422.8 L230.3,422.2 L231.8,422.4 L233.3,422.2 L234.9,421.7 L236.3,421.9 L237.7,421.6 L239.3,421.5 L240.8,420.9 L242.2,420.9 L243.7,420.9 L245.4,420.3 L246.8,420.4 L248.2,420.3 L249.9,419.8 L251.2,419.6 L252.9,419.5 L254.4,419.2 L255.7,419.1 L257.4,418.8 L258.7,419.0 L260.2,418.8 L261.7,418.4 L263.4,418.6 L264.8,418.2 L266.2,418.0 L267.8,418.1 L269.4,417.9 L270.9,417.8 L272.3,417.5 L273.8,417.3 L275.5,417.1 L275.4,419.0 L275.7,421.0 L275.7,422.7 L275.9,424.9 L275.9,426.5 L276.1,428.1 L276.0,429.8 L276.2,432.1 L277.2,432.8 L278.5,433.9 L279.3,435.2 L280.4,436.0 L281.2,437.3 L282.3,438.6 L283.2,439.4 L284.0,440.6 L284.9,441.9 L286.0,443.4 L286.9,444.4 L287.8,445.4 L288.7,447.0 L289.5,448.1 L290.5,449.1 L291.4,450.7 L292.2,452.0 L293.1,453.1 L294.1,454.1 L295.1,455.4 L296.2,456.2 L297.3,457.3 L298.2,458.6 L299.3,459.9 L300.5,460.8 L301.4,461.5 L302.4,462.7 L303.7,463.6 L305.0,464.5 L306.0,465.4 L307.2,466.6 L308.5,467.2 L309.8,467.8 L311.0,468.7 L312.3,469.7 L313.7,469.9 L314.9,470.6 L316.3,471.6 L317.9,471.9 L319.2,472.6 L320.5,473.2 L321.8,473.5 L323.4,474.4 L324.8,475.1 L326.4,475.2 L327.6,475.8 L329.2,476.0 L330.5,476.6 L332.0,477.2 L333.7,477.3 L335.1,477.7 L336.5,478.0 L338.2,478.6 L339.6,478.9 L341.2,479.3 L342.6,479.6 L344.1,479.8 L345.7,480.4 L347.1,480.7 L348.5,480.8 L350.0,481.4 L351.4,481.4 L353.2,481.9 L354.6,481.9 L356.0,482.4 L357.5,482.6 L359.0,482.9 L360.6,483.2 L362.2,483.1 L363.7,483.1 L365.2,483.4 L366.6,483.8 L368.1,483.9 L369.5,484.4 L371.1,484.6 L372.5,484.3 L374.1,484.6 L375.5,484.7 L377.0,485.2 L378.6,485.4 L380.0,485.6 L381.6,485.5 L383.1,485.8 L384.6,485.7 L386.0,486.0 L387.4,486.1 L389.1,486.4 L390.5,486.6 L392.0,486.8 L393.5,486.5 L395.0,486.9 L396.5,487.2 L398.2,487.0 L399.7,487.3 L401.1,487.2 L402.7,487.7 L404.0,487.5 L405.5,487.5 L407.1,488.0 L408.5,488.1 L410.1,487.7 L411.7,488.0 L413.0,488.0 L414.6,488.1 L416.1,488.3 L417.7,488.5 L419.1,488.6 L420.8,488.9 L422.1,489.1 L423.8,489.0 L425.2,489.0 L426.6,489.4 L428.3,489.0 L429.9,489.6 L431.1,489.6 L432.7,489.6 L434.4,489.7 L435.8,490.0 L437.2,490.1 L438.8,490.4 L440.2,490.4 L441.7,490.2 L443.2,490.3 L444.9,490.5 L446.5,490.5 L447.9,491.2 L449.3,490.9 L451.0,491.2 L452.6,491.3 L453.9,491.8 L455.4,492.0 L457.1,491.7" stroke-width="4.0"/>
<path d="M68.1,500.1 L69.4,499.7 L71.1,499.9 L72.5,499.4 L74.2,499.6 L75.7,499.5 L77.3,499.7 L78.9,499.8 L80.3,499.8 L82.1,500.3 L83.6,500.1 L85.0,499.8 L86.4,500.2 L87.8,499.7 L89.3,499.2 L90.6,499.2 L91.8,498.2 L93.1,497.9 L94.2,496.8 L95.3,495.8 L96.1,494.8 L97.1,493.9 L98.0,492.8 L99.0,491.4 L99.6,490.4 L100.5,488.8 L101.4,487.7 L102.5,486.1 L103.3,485.4 L104.4,483.7 L105.5,483.1 L106.5,481.7 L107.7,480.8 L108.7,479.8 L110.0,478.9 L111.3,478.4 L112.7,477.6 L114.1,476.7 L115.3,476.5 L116.8,475.9 L118.2,475.0 L119.6,474.5 L120.8,473.7 L122.3,473.6 L123.8,472.8 L125.3,472.1 L126.8,472.1 L128.2,471.7 L129.6,470.8 L131.2,470.7 L132.5,470.1 L133.9,470.0 L135.5,469.6 L136.9,469.0 L138.5,468.9 L140.1,468.3 L141.5,468.0 L143.1,467.9 L144.5,467.4 L145.9,467.4 L147.5,466.8 L148.8,466.5 L150.6,466.2 L152.0,466.2 L153.5,466.0 L154.9,465.8 L156.3,465.8 L157.8,465.1 L159.5,465.2 L161.1,465.0 L162.6,464.5 L163.8,464.4 L165.6,464.2 L167.0,464.4 L168.4,464.1 L170.1,464.1 L171.5,463.8 L173.0,463.9 L174.6,463.6 L176.0,463.5 L177.6,463.4 L179.1,463.3 L180.7,463.0 L182.1,463.1 L183.6,463.0 L185.0,462.9 L186.7,462.5 L188.3,462.2 L189.6,462.4 L191.3,462.1 L192.9,462.2 L194.1,461.8 L195.6,461.9 L197.2,461.6 L198.8,461.4 L200.4,461.8 L201.8,461.4 L203.3,461.4 L204.8,461.5 L206.5,461.3 L207.9,460.8 L209.2,460.8 L210.8,460.7 L212.5,460.9 L214.0,460.4 L215.3,460.1 L216.9,460.0 L218.4,460.0 L220.0,460.0 L221.5,459.7 L223.0,459.8 L224.5,459.5 L226.0,459.2 L227.4,459.2 L229.0,458.8 L230.6,459.1 L232.1,458.8 L233.5,458.2 L235.0,458.4 L236.7,457.8 L237.9,457.7 L239.5,457.6 L241.0,457.5 L242.5,457.4 L244.0,456.8 L245.5,457.0 L247.1,456.8 L248.5,456.5 L250.2,456.7 L251.8,456.1 L253.1,456.7 L254.7,456.7 L256.1,456.3 L257.8,456.6 L259.2,456.8 L260.7,457.3 L262.4,457.5 L263.6,457.7 L265.0,457.6 L266.8,457.7 L268.1,457.9 L269.4,458.0 L271.0,457.6 L272.4,457.4 L273.7,457.2 L274.9,456.6 L275.9,458.8 L276.4,460.5 L277.1,462.3 L277.6,463.7 L278.0,465.9 L278.5,467.5 L278.9,469.1 L281.2,465.6 L282.4,466.5 L283.6,467.2 L285.1,467.8 L286.5,468.8 L287.6,469.6 L289.0,470.4 L290.2,471.0 L291.7,471.7 L292.9,472.9 L294.5,473.6 L295.6,473.8 L297.1,474.8 L298.4,475.1 L299.8,475.9 L301.2,477.0 L302.5,477.0 L304.0,477.6 L305.2,478.4 L306.9,478.9 L308.1,479.5 L309.4,480.0 L311.0,480.5 L312.4,480.9 L313.6,481.6 L315.2,482.3 L316.5,482.6 L318.1,482.8 L319.4,483.4 L321.0,483.7 L322.4,484.2 L323.9,484.5 L325.2,484.9 L326.8,485.5 L328.4,485.6 L329.6,485.7 L331.2,486.4 L332.5,486.7 L334.2,486.8 L335.7,487.1 L337.1,487.6 L338.5,487.6 L340.2,487.6 L341.5,488.1 L343.1,488.5 L344.6,488.7 L345.9,488.6 L347.4,489.0 L348.9,489.2 L350.6,489.2 L352.1,489.5 L353.7,489.7 L355.1,489.9 L356.5,490.2 L357.9,490.1 L359.5,490.6 L361.1,490.2 L362.6,490.7 L364.2,490.5 L365.8,490.8 L367.2,490.9 L368.7,491.3 L370.4,491.4 L371.8,491.3 L373.2,491.0 L374.9,491.5 L376.4,491.3 L377.8,491.8 L379.4,491.3 L380.9,491.5 L382.4,492.0 L384.1,491.9 L385.4,491.7 L387.0,491.9 L388.7,492.0 L390.2,491.7 L391.6,491.7 L393.3,492.1 L394.8,491.8 L396.4,491.8 L397.8,491.7 L399.5,492.0 L401.0,492.2 L402.5,492.4 L404.1,492.3 L405.7,491.8 L407.1,491.9 L408.5,492.0 L410.3,491.9 L411.6,491.9 L413.3,492.1 L414.8,492.2 L416.3,492.1 L417.7,492.3 L419.4,492.4 L420.8,492.4 L422.4,492.3 L423.8,492.3 L425.3,492.0 L426.9,492.0 L428.3,492.4 L430.0,492.4 L431.4,492.4 L433.1,492.4 L434.4,492.4 L436.0,492.3 L437.4,492.6 L439.1,492.7 L440.5,492.4 L442.1,492.3 L443.5,492.6 L445.1,492.9 L446.6,492.8 L448.1,492.9 L449.5,492.5 L451.2,493.1 L452.4,492.7 L453.9,493.1 L455.4,492.8 L457.0,492.9" stroke-width="4.0"/>
<path d="M68.0,499.9 L69.6,500.0 L70.9,499.5 L72.4,499.6 L74.2,500.1 L75.8,500.0 L77.1,500.0 L78.8,499.9 L80.5,500.0 L81.7,499.8 L83.2,500.0 L84.9,500.1 L86.2,499.4 L87.9,499.3 L89.1,499.4 L90.4,498.9 L92.0,498.3 L93.2,497.4 L94.5,497.2 L95.9,496.5 L97.0,495.6 L98.4,494.8 L99.5,494.2 L101.1,493.6 L102.3,493.2 L103.7,492.1 L105.0,491.9 L106.3,491.0 L107.8,490.7 L109.2,489.7 L110.6,489.2 L112.0,489.0 L113.3,488.4 L114.8,487.9 L116.4,487.4 L117.8,486.9 L119.2,486.6 L120.8,486.1 L122.3,485.9 L123.7,485.4 L125.3,485.5 L126.9,484.8 L128.1,484.8 L129.6,484.7 L131.3,484.2 L132.7,484.2 L134.2,483.8 L135.9,483.9 L137.3,483.4 L138.7,483.4 L140.2,483.5 L141.8,483.6 L143.3,483.6 L144.8,483.3 L146.2,483.2 L147.9,483.2 L149.2,483.2 L150.7,483.3 L152.3,483.2 L153.9,483.4 L155.2,483.0 L156.9,483.3 L158.3,483.2 L159.7,483.1 L161.4,483.2 L162.7,482.8 L164.5,483.0 L165.7,483.0 L167.5,483.1 L168.9,482.9 L170.3,482.6 L172.0,482.4 L173.3,482.6 L175.0,482.0 L176.4,482.2 L178.1,482.1 L179.6,481.7 L181.1,481.7 L182.5,481.5 L184.1,481.4 L185.7,481.6 L187.3,481.6 L188.5,481.6 L190.2,481.6 L191.7,481.0 L193.3,481.0 L194.9,481.1 L196.4,481.1 L197.7,481.1 L199.4,480.9 L200.7,480.9 L202.4,480.7 L203.7,480.8 L205.4,480.5 L206.8,481.0 L208.3,480.8 L209.8,480.3 L211.4,480.7 L213.0,480.2 L214.5,480.5 L216.0,480.4 L217.5,480.0 L219.0,479.9 L220.4,480.2 L222.0,479.9 L223.6,479.8 L225.0,479.7 L226.4,479.5 L227.9,479.7 L229.7,479.3 L230.9,479.3 L232.5,479.1 L234.1,478.8 L235.6,478.4 L237.2,478.3 L238.7,478.2 L240.0,477.7 L241.6,477.3 L243.2,477.4 L244.6,477.0 L246.2,476.5 L247.6,476.6 L249.1,476.2 L250.6,475.8 L252.2,475.7 L253.8,475.8 L255.3,475.3 L256.7,475.0 L258.1,474.9 L259.7,475.4 L261.3,475.0 L262.7,475.3 L264.1,475.3 L265.9,475.0 L267.4,475.5 L268.8,475.5 L270.4,475.9 L272.0,476.4 L272.8,477.0 L274.1,478.4 L275.2,478.8 L276.3,480.0 L277.7,480.3 L279.2,480.6 L280.5,481.0 L281.9,481.9 L283.2,482.4 L284.9,483.0 L286.3,483.6 L287.7,483.8 L289.2,484.5 L290.6,484.8 L291.9,485.1 L293.4,485.8 L295.0,485.9 L296.6,486.2 L297.8,486.7 L299.2,487.5 L300.8,487.5 L302.4,487.9 L303.8,488.2 L305.3,488.8 L306.7,488.9 L308.3,489.0 L309.6,489.5 L311.3,489.7 L312.6,490.3 L314.1,490.5 L315.6,490.6 L317.1,490.6 L318.7,491.2 L320.2,491.2 L321.7,491.5 L323.1,492.0 L324.6,491.7 L326.2,492.0 L327.8,492.0 L329.3,492.4 L330.9,492.5 L332.2,492.7 L333.8,492.8 L335.3,493.1 L336.8,493.2 L338.3,493.5 L339.9,493.7 L341.3,493.4 L342.7,493.6 L344.2,493.8 L345.9,494.0 L347.5,494.0 L348.8,494.1 L350.3,494.5 L351.9,494.3 L353.5,494.7 L354.9,494.7 L356.5,494.7 L357.9,494.7 L359.6,494.8 L361.1,494.7 L362.6,495.2 L364.0,495.0 L365.6,494.9 L367.0,494.9 L368.7,495.2 L370.3,495.5 L371.8,495.5 L373.3,495.0 L374.6,495.6 L376.4,495.4 L377.8,495.4 L379.3,495.2 L380.9,495.3 L382.3,495.7 L383.9,495.7 L385.4,495.5 L386.9,495.7 L388.4,495.6 L390.0,495.4 L391.4,495.5 L393.1,495.7 L394.5,495.4 L396.1,495.7 L397.6,495.6 L399.0,495.3 L400.8,495.6 L402.1,495.6 L403.9,495.5 L405.3,495.5 L406.8,495.3 L408.5,495.6 L409.8,495.5 L411.3,495.8 L413.0,495.5 L414.5,495.6 L415.9,495.3 L417.6,495.4 L419.1,495.3 L420.4,495.4 L422.1,495.7 L423.8,495.7 L425.1,495.4 L426.8,495.7 L428.3,495.4 L429.8,495.7 L431.1,495.7 L432.6,495.8 L434.2,495.9 L435.7,495.9 L437.3,495.9 L439.0,495.7 L440.4,495.8 L442.0,496.1 L443.5,496.0 L444.8,496.2 L446.6,496.3 L447.9,496.3 L449.5,496.4 L451.0,496.2 L452.4,496.5 L454.0,496.4 L455.6,496.1 L456.9,496.5" stroke-width="4.0"/>
<path d="M68.1,500.2 L69.5,500.0 L71.2,500.1 L72.5,500.3 L74.0,500.3 L75.5,499.9 L77.1,500.0 L78.7,500.0 L80.0,500.1 L81.7,499.7 L83.2,499.4 L84.6,499.6 L86.1,499.4 L87.4,499.0 L88.9,498.9 L90.4,498.5 L91.9,498.4 L93.4,497.9 L94.7,497.5 L96.1,497.6 L97.7,496.9 L99.0,497.1 L100.6,497.0 L102.1,496.4 L103.3,496.3 L104.9,496.1 L106.3,496.3 L107.9,496.1 L109.2,496.2 L110.7,496.2 L112.2,496.6 L113.9,496.2 L115.4,496.8 L116.9,496.5 L118.4,496.4 L119.7,497.0 L121.3,497.0 L122.9,496.5 L124.3,496.9 L125.8,496.9 L127.4,496.7 L128.9,496.7 L130.5,496.9 L132.0,496.9 L133.3,497.1 L135.0,496.8 L136.5,496.8 L138.0,496.8 L139.4,496.8 L140.9,496.5 L142.5,497.0 L144.0,496.6 L145.5,496.8 L147.0,496.7 L148.5,496.8 L150.1,496.6 L151.6,496.7 L152.9,496.4 L154.5,496.5 L156.0,496.4 L157.7,496.7 L159.0,496.6 L160.7,496.3 L162.1,496.7 L163.5,496.7 L165.2,496.3 L166.5,496.6 L168.1,496.4 L169.6,496.6 L171.2,496.7 L172.7,496.3 L174.1,496.2 L175.5,496.4 L177.0,496.5 L178.5,496.7 L180.1,496.5 L181.7,496.6 L183.0,496.9 L184.7,497.0 L186.1,496.7 L187.7,496.6 L189.3,497.0 L190.7,496.7 L192.1,496.9 L193.8,496.8 L195.2,496.8 L196.8,497.3 L198.3,497.3 L199.6,497.0 L201.1,497.2 L202.6,497.0 L204.1,497.5 L205.8,497.1 L207.4,497.0 L208.6,497.1 L210.3,496.9 L211.8,497.1 L213.3,497.0 L214.6,496.7 L216.3,496.9 L217.8,496.6 L219.2,496.5 L220.9,496.7 L222.2,496.6 L223.6,496.3 L225.2,496.3 L226.9,496.1 L228.2,495.5 L229.9,495.7 L231.2,495.6 L232.9,495.1 L234.3,495.1 L236.0,494.9 L237.4,494.8 L238.9,494.1 L240.4,494.2 L241.8,494.0 L243.3,493.8 L245.0,494.1 L246.4,493.9 L247.8,493.7 L249.5,493.8 L250.8,493.4 L252.5,493.6 L253.9,493.5 L255.3,493.7 L256.8,493.9 L258.4,493.9 L259.9,494.0 L261.3,494.3 L262.9,494.2 L264.3,494.0 L265.9,494.6 L267.4,494.4 L268.8,494.9 L270.4,495.2 L271.7,495.2 L273.2,495.3 L274.8,495.1 L276.3,495.6 L277.9,495.4 L279.3,496.0 L280.7,496.2 L282.4,496.0 L283.7,496.0 L285.2,496.3 L286.9,496.8 L288.3,496.9 L289.8,496.8 L291.1,496.8 L292.6,496.8 L294.4,496.8 L295.7,497.2 L297.3,497.0 L298.7,497.5 L300.3,497.2 L301.8,497.5 L303.5,497.4 L304.7,497.5 L306.3,498.1 L307.9,497.7 L309.3,497.9 L311.0,498.2 L312.4,498.0 L313.8,498.3 L315.3,498.4 L316.7,498.4 L318.5,498.4 L319.8,498.7 L321.4,498.7 L322.8,498.8 L324.3,498.8 L325.7,498.6 L327.3,498.8 L328.9,498.6 L330.5,498.7 L332.0,499.3 L333.4,499.3 L335.0,499.1 L336.5,498.9 L338.0,499.3 L339.5,499.1 L340.8,499.3 L342.5,499.5 L343.8,499.5 L345.6,499.3 L347.0,499.8 L348.5,499.5 L349.9,499.6 L351.4,499.4 L352.9,499.5 L354.6,499.6 L356.1,499.8 L357.6,500.0 L359.1,499.7 L360.4,499.8 L362.0,500.0 L363.4,499.9 L365.0,499.8 L366.6,500.2 L368.2,499.9 L369.7,500.2 L371.1,500.0 L372.5,500.2 L374.1,500.2 L375.7,500.1 L377.2,500.1 L378.5,500.1 L380.0,499.9 L381.8,500.0 L383.0,500.1 L384.5,500.2 L386.1,500.0 L387.7,500.4 L389.0,500.3 L390.7,500.2 L392.2,499.9 L393.6,500.2 L395.1,500.5 L396.7,500.4 L398.3,500.4 L399.7,500.2 L401.3,500.0 L402.7,500.0 L404.2,500.2 L405.9,500.5 L407.2,500.3 L408.7,500.4 L410.3,500.1 L411.9,500.0 L413.2,500.3 L415.0,500.1 L416.2,500.5 L417.8,500.5 L419.2,500.1 L420.8,500.5 L422.2,500.4 L424.0,500.6 L425.5,500.0 L426.9,500.1 L428.3,500.1 L430.0,500.3 L431.3,500.2 L432.8,500.5 L434.5,500.3 L436.0,500.6 L437.3,500.1 L438.8,500.4 L440.5,500.3 L442.0,500.3 L443.4,500.4 L445.1,500.0 L446.5,500.1 L448.0,500.2 L449.6,500.4 L451.1,500.3 L452.5,500.6 L454.1,500.2 L455.4,500.6 L456.9,500.6" stroke-width="4.0"/>
</g>
<g font-family="Liberation Serif, serif" font-weight="bold" fill="#000" stroke="#000" stroke-width="0.3">
<text transform="translate(37.2,46.6) scale(1,0.93)" font-size="17.8">80</text>
<text transform="translate(37.2,89.8) scale(1,0.93)" font-size="17.8">60</text>
<text transform="translate(37.4,131) scale(1,0.93)" font-size="17.8">40</text>
<text transform="translate(37.6,174.4) scale(1,0.93)" font-size="17.8">20</text>
<text transform="translate(40.2,214.6) scale(1,0.93)" font-size="17.8">0</text>
<text transform="translate(31.5,235.5) scale(1,0.93)" font-size="17.8">-10</text>
<text transform="translate(57.9,253.5) scale(1,0.93)" font-size="17.8">200</text>
<text transform="translate(142.6,253.5) scale(1,0.93)" font-size="17.8">300</text>
<text transform="translate(232.2,253.5) scale(1,0.93)" font-size="17.8">400</text>
<text transform="translate(321.4,253.5) scale(1,0.93)" font-size="17.8">500</text>
<text transform="translate(414.2,253.5) scale(1,0.93)" font-size="17.8">600</text>
<text transform="translate(39.1,385.9) scale(1,0.93)" font-size="17.8">60</text>
<text transform="translate(37.6,427) scale(1,0.93)" font-size="17.8">40</text>
<text transform="translate(37.7,470) scale(1,0.93)" font-size="17.8">20</text>
<text transform="translate(46.0,512) scale(1,0.93)" font-size="17.8">0</text>
<text transform="translate(31.5,534) scale(1,0.93)" font-size="17.8">-10</text>
<text transform="translate(62.9,550.8) scale(1,0.93)" font-size="17.8">0</text>
<text transform="translate(162.9,551.2) scale(1,0.93)" font-size="17.8">140</text>
<text transform="translate(271.6,551) scale(1,0.93)" font-size="17.8">280</text>
<text transform="translate(388.2,551.2) scale(1,0.93)" font-size="17.8">420</text>
<text transform="translate(494.5,550.8) scale(1,0.93)" font-size="17.8">560</text>
<text x="167.29999999999998" y="57.2" font-size="15" text-anchor="start" >0.5μM</text>
<text x="167.5" y="117.6" font-size="15" text-anchor="start" >0.25μM</text>
<text x="167.5" y="162.2" font-size="15" text-anchor="start" >0.125μM</text>
<text x="167.5" y="183.7" font-size="15" text-anchor="start" >0.0625μM</text>
<text x="167.5" y="204.1" font-size="15" text-anchor="start" >0μM</text>
<text x="174.4" y="356.3" font-size="15" text-anchor="start" >0.5μM</text>
<text x="174.29999999999998" y="416" font-size="15" text-anchor="start" >0.25μM</text>
<text x="174.29999999999998" y="451.5" font-size="15" text-anchor="start" >0.125μM</text>
<text x="174.5" y="477.7" font-size="15" text-anchor="start" >0.0625μM</text>
<text x="174.5" y="494.8" font-size="15" text-anchor="start" >0μM</text>
<text x="205.6" y="287.9" font-size="24.8" text-anchor="start" >Time (seconds)</text>
<text x="199.8" y="589.4" font-size="24.8" text-anchor="start" >Time (seconds)</text>
<text transform="translate(17.2,219.5) rotate(-90)" font-size="25">Response (RU)</text>
<text transform="translate(17.2,519.5) rotate(-90)" font-size="25">Response (RU)</text>
</g>
<text x="-0.9" y="19.8" font-size="28.6" font-family="Liberation Sans, sans-serif" font-weight="bold">A</text>
<text x="-1.6" y="335.8" font-size="27" font-family="Liberation Sans, sans-serif" font-weight="bold">B</text>
</svg>
</body></html>
